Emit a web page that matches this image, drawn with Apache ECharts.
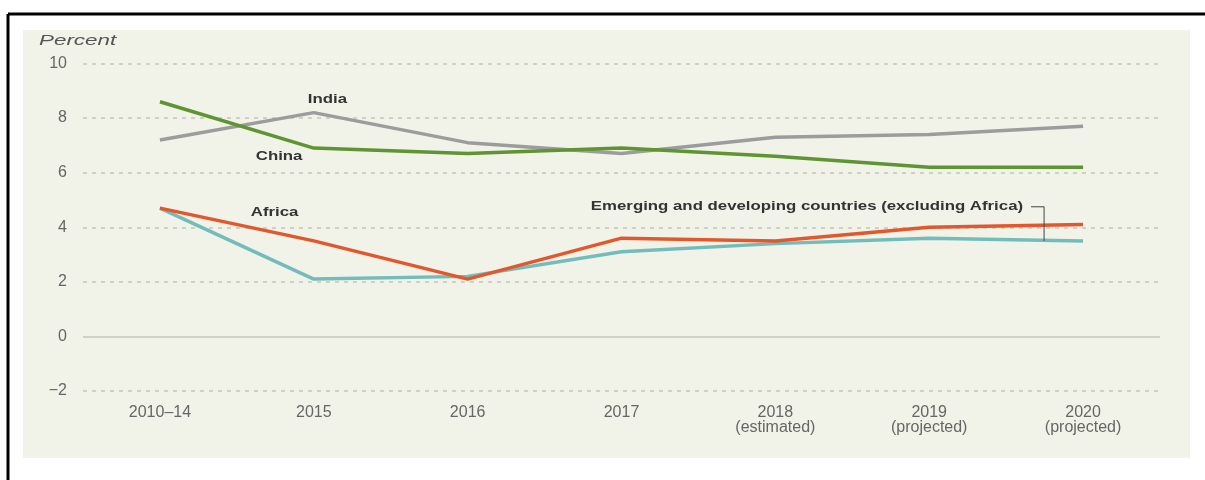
<!DOCTYPE html>
<html><head><meta charset="utf-8">
<script src="https://cdn.jsdelivr.net/npm/echarts@6/dist/echarts.min.js"></script>
<style>html,body{margin:0;padding:0;background:#fff}#c{width:1205px;height:480px}</style>
</head><body><div id="c"></div>
<script>
const categories = ['2010–14', '2015', '2016', '2017', '2018\n(estimated)', '2019\n(projected)', '2020\n(projected)'];
const india = [7.2, 8.2, 7.1, 6.7, 7.3, 7.4, 7.7];
const china = [8.6, 6.9, 6.7, 6.9, 6.6, 6.2, 6.2];
const africa = [4.7, 3.5, 2.1, 3.6, 3.5, 4.0, 4.1];
const emerging = [4.7, 2.1, 2.2, 3.1, 3.4, 3.6, 3.5];
const yMin = -2, yMax = 10, yStep = 2;
const yTitle = 'Percent';
// annotation labels: [text, category index, value, pixel dx, align]
const labels = [
  ['India', 1, 8.68, -6, 'left'],
  ['China', 1, 6.58, -58, 'left'],
  ['Africa', 1, 4.53, -63, 'left'],
  ['Emerging and developing countries (excluding Africa)', 6, 4.75, -60, 'right']
];
const bracket = { cat: 6, top: 4.75, bottom: 3.5 };

const FONT = 'Liberation Sans';
const chart = echarts.init(document.getElementById('c'));
const lineS = (name, data, color, w) => ({
  name, type: 'line', data, symbol: 'none', smooth: false,
  lineStyle: { color, width: w }, itemStyle: { color }, z: 3
});
const seriesIndia = lineS('India', india, '#9c9c9c', 3.5);
seriesIndia.markLine = {
  silent: true, symbol: ['none', 'none'], label: { show: false },
  lineStyle: { color: '#d0d1c7', width: 2, type: 'solid' },
  data: [{ yAxis: 0 }], z: 1
};
chart.setOption({
  animation: false,
  backgroundColor: '#ffffff',
  grid: { left: 83, right: 45, top: 63.5, bottom: 89 },
  xAxis: {
    type: 'category', data: categories, boundaryGap: true,
    axisLine: { show: false }, axisTick: { show: false },
    axisLabel: { color: '#666', fontSize: 16, fontFamily: FONT, margin: 14, lineHeight: 15, interval: 0 }
  },
  yAxis: {
    type: 'value', min: yMin, max: yMax, interval: yStep,
    axisLine: { show: false }, axisTick: { show: false },
    axisLabel: { color: '#666', fontSize: 16, fontFamily: FONT, margin: 16,
      formatter: v => (v < 0 ? '\u2212' + Math.abs(v) : String(v)) },
    splitLine: { lineStyle: { color: '#c4c5bb', width: 1.5, type: [4, 5] } }
  },
  series: [
    seriesIndia,
    lineS('Emerging and developing countries (excluding Africa)', emerging, '#72bdbb', 3.5),
    lineS('China', china, '#5f9432', 3.5),
    lineS('Africa', africa, '#e2582c', 3.5)
  ],
  graphic: [
    { type: 'rect', z: -10, silent: true, shape: { x: 23, y: 30, width: 1167, height: 428 }, style: { fill: '#f1f2e8' } },
    { type: 'line', z: 100, silent: true, shape: { x1: 8, y1: 14, x2: 1205, y2: 14 }, style: { stroke: '#000', lineWidth: 3 } },
    { type: 'line', z: 100, silent: true, shape: { x1: 8, y1: 14, x2: 8, y2: 480 }, style: { stroke: '#000', lineWidth: 3 } }
  ]
});

const px = (c, v) => chart.convertToPixel({ gridIndex: 0 }, [c, v]);
const g = [];
g.push({ type: 'text', silent: true, x: 39, y: 41, scaleX: 1.6,
  style: { text: yTitle, fontFamily: FONT, fontStyle: 'italic', fontSize: 14, fill: '#555', align: 'left', verticalAlign: 'middle' } });
labels.forEach(([t, c, v, dx, align]) => {
  const p = px(c, v);
  g.push({ type: 'text', silent: true, z: 50, x: p[0] + dx, y: p[1], scaleX: 1.4,
    style: { text: t, fontFamily: FONT, fontWeight: 'bold', fontSize: 12, fill: '#333', align, verticalAlign: 'middle' } });
});
const bTop = px(bracket.cat, bracket.top), bBot = px(bracket.cat, bracket.bottom);
g.push({ type: 'polyline', silent: true, z: 50,
  shape: { points: [[bTop[0] - 52, bTop[1]], [bTop[0] - 39, bTop[1]], [bTop[0] - 39, bBot[1]]] },
  style: { stroke: '#444', lineWidth: 1, fill: null } });
chart.setOption({ graphic: g.map((e, i) => Object.assign({ id: 'ann' + i }, e)) });
</script></body></html>
